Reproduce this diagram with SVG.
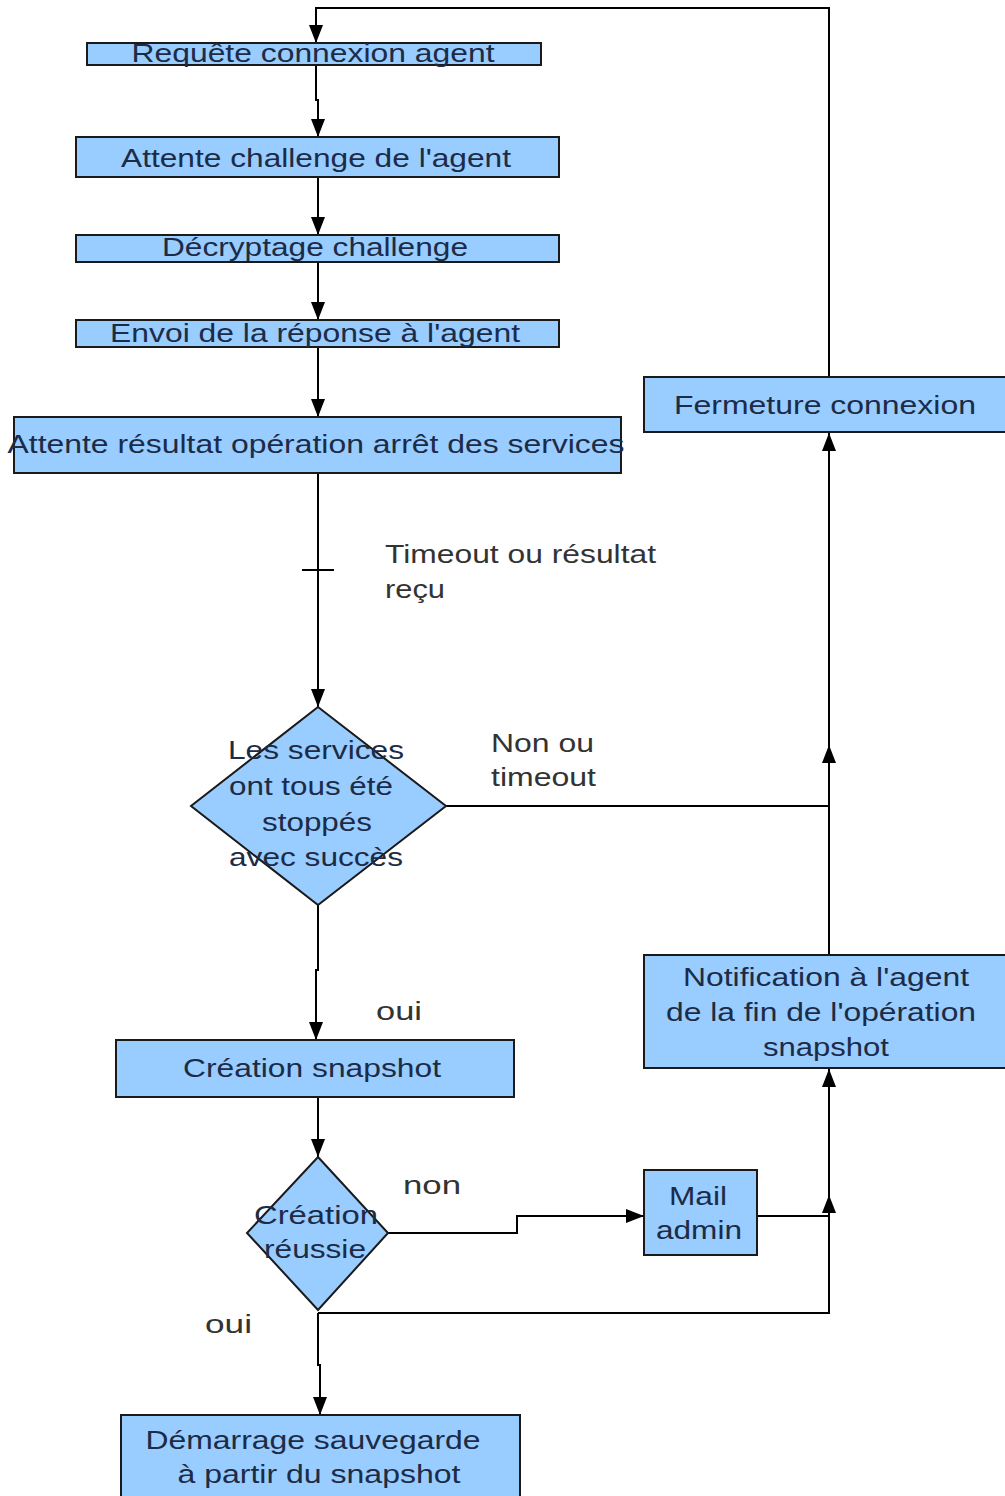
<svg xmlns="http://www.w3.org/2000/svg" width="1005" height="1496" viewBox="0 0 1005 1496">
<style>
.box{fill:#99ccff;stroke:#1a1a1a;stroke-width:2}
.nt{font-family:"Liberation Sans",Arial,sans-serif;font-size:25px;fill:#1c2b46;text-anchor:middle}
.lb{font-family:"Liberation Sans",Arial,sans-serif;font-size:25px;fill:#333333}
.cn{fill:none;stroke:#000;stroke-width:2}
</style>
<defs>
<marker id="ah" markerUnits="userSpaceOnUse" markerWidth="18" markerHeight="14" refX="18" refY="7" orient="auto">
<path d="M0,0 L18,7 L0,14 z" fill="#000"/>
</marker>
</defs>
<rect width="1005" height="1496" fill="#ffffff"/>
<g id="connectors">
<path class="cn" d="M829,377 V8 H316 V43" marker-end="url(#ah)"/>
<path class="cn" d="M316,65 V100 H318 V137" marker-end="url(#ah)"/>
<path class="cn" d="M318,177 V235" marker-end="url(#ah)"/>
<path class="cn" d="M318,262 V320" marker-end="url(#ah)"/>
<path class="cn" d="M318,347 V417" marker-end="url(#ah)"/>
<path class="cn" d="M318,473 V707" marker-end="url(#ah)"/>
<path class="cn" d="M302,570 H334"/>
<path class="cn" d="M446,806 H829 V745" marker-end="url(#ah)"/>
<path class="cn" d="M829,955 V433" marker-end="url(#ah)"/>
<path class="cn" d="M318,905 V970 H316 V1040" marker-end="url(#ah)"/>
<path class="cn" d="M318,1097 V1157" marker-end="url(#ah)"/>
<path class="cn" d="M388,1233 H517 V1216 H644" marker-end="url(#ah)"/>
<path class="cn" d="M757,1216 H829 V1195" marker-end="url(#ah)"/>
<path class="cn" d="M318,1313 H829 V1069" marker-end="url(#ah)"/>
<path class="cn" d="M318,1313 V1365 H320 V1415" marker-end="url(#ah)"/>
<text class="lb" x="385" y="563" textLength="271" lengthAdjust="spacingAndGlyphs">Timeout ou résultat</text>
<text class="lb" x="385" y="598" textLength="60" lengthAdjust="spacingAndGlyphs">reçu</text>
<text class="lb" x="491" y="752" textLength="103" lengthAdjust="spacingAndGlyphs">Non ou</text>
<text class="lb" x="491" y="786" textLength="105" lengthAdjust="spacingAndGlyphs">timeout</text>
<text class="lb" x="376" y="1020" textLength="46" lengthAdjust="spacingAndGlyphs">oui</text>
<text class="lb" x="403" y="1194" textLength="58" lengthAdjust="spacingAndGlyphs">non</text>
<text class="lb" x="205" y="1333" textLength="47" lengthAdjust="spacingAndGlyphs">oui</text>
</g>
<g id="n1"><rect class="box" x="87" y="43" width="454" height="22"/><text class="nt" x="313" y="62" textLength="363" lengthAdjust="spacingAndGlyphs">Requête connexion agent</text></g>
<g id="n2"><rect class="box" x="76" y="137" width="483" height="40"/><text class="nt" x="316" y="167" textLength="390" lengthAdjust="spacingAndGlyphs">Attente challenge de l'agent</text></g>
<g id="n3"><rect class="box" x="76" y="235" width="483" height="27"/><text class="nt" x="315" y="256" textLength="306" lengthAdjust="spacingAndGlyphs">Décryptage challenge</text></g>
<g id="n4"><rect class="box" x="76" y="320" width="483" height="27"/><text class="nt" x="315" y="342" textLength="410" lengthAdjust="spacingAndGlyphs">Envoi de la réponse à l'agent</text></g>
<g id="n5"><rect class="box" x="14" y="417" width="607" height="56"/><text class="nt" x="316" y="453" textLength="617" lengthAdjust="spacingAndGlyphs">Attente résultat opération arrêt des services</text></g>
<g id="n6"><rect class="box" x="644" y="377" width="370" height="55"/><text class="nt" x="825" y="414" textLength="302" lengthAdjust="spacingAndGlyphs">Fermeture connexion</text></g>
<g id="n7"><polygon class="box" points="318,707 446,806 318,905 191,806"/>
<text class="nt" x="316" y="759" textLength="176" lengthAdjust="spacingAndGlyphs">Les services</text>
<text class="nt" x="311" y="795" textLength="164" lengthAdjust="spacingAndGlyphs">ont tous été</text>
<text class="nt" x="317" y="831" textLength="110" lengthAdjust="spacingAndGlyphs">stoppés</text>
<text class="nt" x="316" y="866" textLength="174" lengthAdjust="spacingAndGlyphs">avec succès</text></g>
<g id="n8"><rect class="box" x="644" y="955" width="370" height="113"/>
<text class="nt" x="826" y="986" textLength="286" lengthAdjust="spacingAndGlyphs">Notification à l'agent</text>
<text class="nt" x="821" y="1021" textLength="310" lengthAdjust="spacingAndGlyphs">de la fin de l'opération</text>
<text class="nt" x="826" y="1056" textLength="126" lengthAdjust="spacingAndGlyphs">snapshot</text></g>
<g id="n9"><rect class="box" x="116" y="1040" width="398" height="57"/><text class="nt" x="312" y="1077" textLength="258" lengthAdjust="spacingAndGlyphs">Création snapshot</text></g>
<g id="n10"><polygon class="box" points="318,1157 388,1233 318,1310 247,1233"/>
<text class="nt" x="316" y="1224" textLength="124" lengthAdjust="spacingAndGlyphs">Création</text>
<text class="nt" x="315" y="1258" textLength="102" lengthAdjust="spacingAndGlyphs">réussie</text></g>
<g id="n11"><rect class="box" x="644" y="1170" width="113" height="85"/>
<text class="nt" x="698" y="1205" textLength="58" lengthAdjust="spacingAndGlyphs">Mail</text>
<text class="nt" x="699" y="1239" textLength="86" lengthAdjust="spacingAndGlyphs">admin</text></g>
<g id="n12"><rect class="box" x="121" y="1415" width="399" height="90"/>
<text class="nt" x="313" y="1449" textLength="335" lengthAdjust="spacingAndGlyphs">Démarrage sauvegarde</text>
<text class="nt" x="319" y="1483" textLength="283" lengthAdjust="spacingAndGlyphs">à partir du snapshot</text></g>
</svg>
